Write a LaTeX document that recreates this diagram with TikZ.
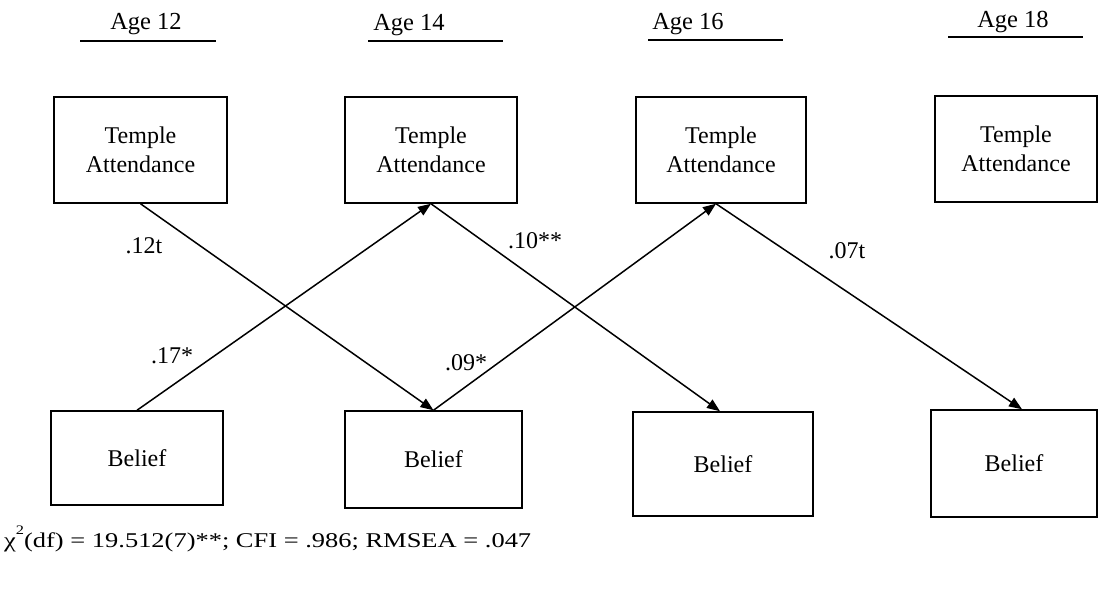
\documentclass[tikz,border=0pt]{standalone}
\usepackage{fontspec}
\setmainfont{Liberation Serif}
\newfontfamily\widefont[FakeStretch=1.26]{Liberation Serif}
\usetikzlibrary{arrows.meta}

\begin{document}
\begin{tikzpicture}[x=1pt,y=-1pt,
  box/.style={draw, line width=1.5pt, inner sep=0pt, align=center,
              font=\fontsize{24}{29}\selectfont},
  topbox/.style={box, minimum height=106pt},
  botbox/.style={box},
  link/.style={line width=1.5pt, -{Triangle[length=13pt,width=10pt]}},
  coef/.style={font=\fontsize{24}{29}\selectfont, inner sep=0pt, anchor=base},
  agelabel/.style={font=\fontsize{24.5}{29}\selectfont, inner sep=0pt, anchor=base},
  agerule/.style={line width=1.2pt}]
\useasboundingbox (0,0) rectangle (1110,592);

% wave headings
\node[agelabel] (a12) at (146,29)  {Age 12};
\node[agelabel] (a14) at (409,30)  {Age 14};
\node[agelabel] (a16) at (688,29)  {Age 16};
\node[agelabel] (a18) at (1013,27) {Age 18};
\draw[agerule] (80,41)  -- (216,41);
\draw[agerule] (368,41) -- (503,41);
\draw[agerule] (648,40) -- (783,40);
\draw[agerule] (948,37) -- (1083,37);

% temple attendance at each wave
\node[topbox, minimum width=173pt] (T1) at (140.5,150) {Temple\\Attendance};
\node[topbox, minimum width=172pt] (T2) at (431,150)   {Temple\\Attendance};
\node[topbox, minimum width=170pt] (T3) at (721,150)   {Temple\\Attendance};
\node[topbox, minimum width=162pt] (T4) at (1016,149)  {Temple\\Attendance};

% belief at each wave
\node[botbox, minimum width=172pt, minimum height=94pt]  (B1) at (137,458)   {Belief};
\node[botbox, minimum width=177pt, minimum height=97pt]  (B2) at (433.5,459.5) {Belief};
\node[botbox, minimum width=180pt, minimum height=104pt] (B3) at (723,464)   {Belief};
\node[botbox, minimum width=166pt, minimum height=107pt] (B4) at (1014,463.5) {Belief};

% cross-lagged paths
\draw[link] (T1.south) -- (B2.north);
\draw[link] (B1.north) -- (T2.south);
\draw[link] (T2.south) -- ([xshift=-3pt]B3.north);
\draw[link] (B2.north) -- ([xshift=-5pt]T3.south);
\draw[link] ([xshift=-5pt]T3.south) -- ([xshift=8pt]B4.north);

% path coefficients
\node[coef] (c1) at (144,253) {.12t};
\node[coef] (c2) at (172,363) {.17*};
\node[coef] (c3) at (535,248) {.10**};
\node[coef] (c4) at (466,370) {.09*};
\node[coef] (c5) at (847,258) {.07t};

% model fit
\node[anchor=base west, inner sep=0pt, font=\fontsize{21}{25}\selectfont\widefont] (fit) at (4,547)
  {χ\raisebox{0.6em}{\fontsize{13}{13}\selectfont 2}(df) = 19.512(7)**; CFI = .986; RMSEA = .047};
\end{tikzpicture}
\end{document}
